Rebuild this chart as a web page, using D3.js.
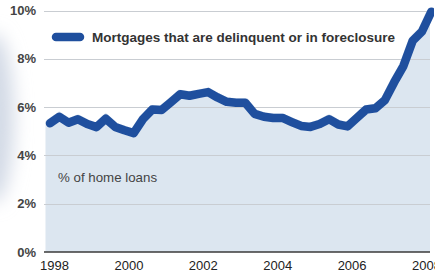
<!DOCTYPE html>
<html>
<head>
<meta charset="utf-8">
<script src="https://cdn.jsdelivr.net/npm/d3@7"></script>
<style>
  body { margin: 0; background: #fff; }
  svg { display: block; font-family: "Liberation Sans", Arial, sans-serif; }
</style>
</head>
<body>
<div id="chart"></div>
<script>
// chart size
var w = 435;
var h = 275;

// quarterly data, 1998 Q1 .. 2008 Q2
var quarters = ["1998Q1","1998Q2","1998Q3","1998Q4","1999Q1","1999Q2","1999Q3","1999Q4",
                "2000Q1","2000Q2","2000Q3","2000Q4","2001Q1","2001Q2","2001Q3","2001Q4",
                "2002Q1","2002Q2","2002Q3","2002Q4","2003Q1","2003Q2","2003Q3","2003Q4",
                "2004Q1","2004Q2","2004Q3","2004Q4","2005Q1","2005Q2","2005Q3","2005Q4",
                "2006Q1","2006Q2","2006Q3","2006Q4","2007Q1","2007Q2","2007Q3","2007Q4",
                "2008Q1","2008Q2"];
var delinquent = [5.33, 5.60, 5.35, 5.50, 5.30, 5.17, 5.52, 5.18,
                  5.04, 4.92, 5.50, 5.90, 5.88, 6.20, 6.53, 6.47,
                  6.55, 6.62, 6.40, 6.22, 6.18, 6.18, 5.72, 5.60,
                  5.55, 5.55, 5.38, 5.22, 5.18, 5.30, 5.50, 5.28,
                  5.20, 5.55, 5.90, 5.95, 6.28, 7.02, 7.70, 8.75,
                  9.13, 9.95];
var yTicks = [0, 2, 4, 6, 8, 10];
var xTicks = [1998, 2000, 2002, 2004, 2006, 2008];
var seriesLabel = "Mortgages that are delinquent or in foreclosure";
var unitLabel = "% of home loans";

var lineColor = "#1f4f9e";
var fillColor = "#dce6f0";

var data = quarters.map(function(q, i) {
    var yr = +q.slice(0, 4), qn = +q.slice(5);
    return { t: yr + (qn - 1) / 4, v: delinquent[i] };
});

var xScale = d3.scaleLinear().domain([1998, 2008]).range([50, 422]);
var yScale = d3.scaleLinear().domain([0, 10]).range([252, 10.5]);

var svg = d3.select("#chart").append("svg")
    .attr("width", w)
    .attr("height", h);

var defs = svg.append("defs");
defs.append("filter").attr("id", "soft")
    .attr("x", "-100%").attr("y", "-50%").attr("width", "300%").attr("height", "200%")
  .append("feGaussianBlur").attr("stdDeviation", 9);
defs.append("clipPath").attr("id", "plotclip")
  .append("rect").attr("x", 0).attr("y", 0).attr("width", 430).attr("height", yScale(0));
defs.append("clipPath").attr("id", "lineclip")
  .append("rect").attr("x", 0).attr("y", 0).attr("width", 434).attr("height", h);

// faint shading at the left edge
svg.append("ellipse")
    .attr("cx", -6).attr("cy", 118)
    .attr("rx", 20).attr("ry", 85)
    .attr("fill", "#d3dae6")
    .attr("filter", "url(#soft)");

// area under the line
var area = d3.area()
    .x(function(d) { return xScale(d.t); })
    .y0(yScale(0))
    .y1(function(d) { return yScale(d.v); });

svg.append("path")
    .datum(data)
    .attr("clip-path", "url(#plotclip)")
    .attr("d", area)
    .attr("fill", fillColor)
    .attr("stroke", fillColor)
    .attr("stroke-width", 9);

// gridlines
svg.append("g")
    .selectAll("line")
    .data(yTicks.filter(function(d) { return d > 0; }))
    .enter()
    .append("line")
    .attr("x1", 44).attr("x2", 430)
    .attr("y1", function(d) { return Math.round(yScale(d)) + 0.5; })
    .attr("y2", function(d) { return Math.round(yScale(d)) + 0.5; })
    .attr("stroke", "#c9cdd2")
    .attr("stroke-width", 1);

// baseline
svg.append("line")
    .attr("x1", 44).attr("x2", 430)
    .attr("y1", yScale(0)).attr("y2", yScale(0))
    .attr("stroke", "#3a3a3a")
    .attr("stroke-width", 1.6);

// y labels
svg.append("g")
    .selectAll("text")
    .data(yTicks)
    .enter()
    .append("text")
    .attr("x", 36)
    .attr("y", function(d) { return yScale(d) + 4.5; })
    .attr("text-anchor", "end")
    .attr("font-size", 13)
    .attr("font-weight", "bold")
    .attr("fill", "#444")
    .text(function(d) { return d + "%"; });

// x labels
svg.append("g")
    .selectAll("text")
    .data(xTicks)
    .enter()
    .append("text")
    .attr("x", function(d) { return xScale(d) + 4.5; })
    .attr("y", 270)
    .attr("text-anchor", "middle")
    .attr("font-size", 13)
    .attr("fill", "#222")
    .text(function(d) { return d; });

// the line
var line = d3.line()
    .x(function(d) { return xScale(d.t); })
    .y(function(d) { return yScale(d.v); });

svg.append("path")
    .datum(data)
    .attr("clip-path", "url(#lineclip)")
    .attr("d", line)
    .attr("fill", "none")
    .attr("stroke", lineColor)
    .attr("stroke-width", 8.5)
    .attr("stroke-linejoin", "round")
    .attr("stroke-linecap", "round");

// legend
svg.append("line")
    .attr("x1", 56).attr("x2", 80)
    .attr("y1", 37).attr("y2", 37)
    .attr("stroke", lineColor)
    .attr("stroke-width", 8.5)
    .attr("stroke-linecap", "round");

svg.append("text")
    .attr("x", 92).attr("y", 42)
    .attr("font-size", 13.5)
    .attr("font-weight", "bold")
    .attr("fill", "#333")
    .text(seriesLabel);

svg.append("text")
    .attr("x", 58).attr("y", 182)
    .attr("font-size", 13.3)
    .attr("fill", "#444")
    .text(unitLabel);
</script>
</body>
</html>
